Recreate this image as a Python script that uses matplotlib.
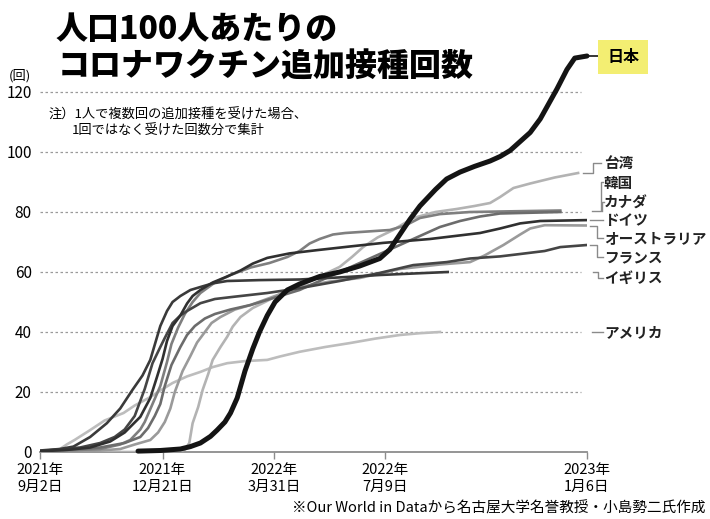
import pandas as pd
import matplotlib
matplotlib.use("Agg")
import matplotlib.pyplot as plt
from matplotlib.lines import Line2D

plt.rcParams['font.family'] = ['Noto Sans CJK JP', 'DejaVu Sans']

start = pd.Timestamp("2021-09-02")
end = pd.Timestamp("2023-01-06")

# booster doses per 100 people
# days = days after 2021-09-02
japan_days = [88, 108, 126, 135, 144, 153, 159, 166, 171, 177, 184, 191, 197, 204, 211, 222,
              233, 251, 269, 287, 305, 314, 323, 332, 341, 355, 365, 377, 390, 404, 413, 422,
              431, 440, 449, 464, 473, 480, 491]
japan_vals = [0.3, 0.5, 1, 1.8, 3, 5.2, 7.3, 10, 13, 18, 27, 34.4, 40, 45.5, 50, 54,
              56, 58.5, 60, 62, 64.5, 67.5, 72.5, 77.5, 82, 87.5, 91, 93.3, 95.2, 97, 98.5, 100.5,
              103.5, 106.5, 111, 121, 127.5, 131.3, 132]

uk_days = [0, 18, 30, 45, 60, 72, 83, 92, 99, 104, 108, 114, 119, 126, 135, 144, 155, 168,
           197, 233, 269, 305, 366]
uk_vals = [0.5, 1, 1.8, 5, 9.6, 14.5, 20.7, 25.5, 30.7, 37, 42, 47, 50, 52, 54, 55, 56.2, 57,
           57.3, 57.5, 58.2, 59, 60]

germany_days = [0, 27, 45, 63, 76, 90, 99, 105, 110, 114, 119, 126, 132, 137, 144, 155, 168,
                180, 191, 204, 224, 249, 278, 308, 350, 395, 413, 431, 449, 491]
germany_vals = [0.2, 0.8, 1.5, 3.5, 6.5, 11.7, 18, 25, 31, 37, 42, 45.5, 49.5, 52, 54, 56.5, 58.5,
                60.5, 62.8, 64.7, 66.2, 67.3, 68.5, 69.7, 71, 73, 74.5, 76.2, 77, 77.3]

korea_days = [0, 54, 72, 81, 90, 94, 101, 108, 114, 118, 124, 130, 137, 144, 157, 171, 189,
              206, 222, 233, 242, 251, 263, 274, 314, 328, 341, 359, 386, 467]
korea_vals = [0.1, 1, 2.5, 4, 7.5, 10, 16, 22, 30, 36, 41.5, 46, 50, 53, 56.5, 59, 61.5,
              63, 65, 67, 69.5, 71, 72.5, 73, 74, 75.5, 78, 79.3, 80, 80.5]

france_days = [0, 36, 54, 67, 76, 85, 94, 101, 108, 112, 119, 126, 132, 144, 157, 173, 204,
               233, 269, 305, 335, 365, 386, 413, 431, 453, 467, 491]
france_vals = [0.3, 1.5, 3, 5, 7.5, 12, 21, 29.6, 35, 38, 43, 45.5, 47, 49.6, 51, 51.7, 53,
               54.6, 57, 59.7, 62.3, 63.3, 64.5, 65.2, 66, 67, 68.3, 69]

canada_days = [0, 54, 76, 90, 97, 103, 108, 112, 118, 126, 132, 139, 148, 157, 171, 189, 211,
               233, 251, 269, 287, 305, 323, 341, 359, 377, 395, 413, 467]
canada_vals = [0.1, 1.5, 3, 5, 8, 12, 16, 22, 29, 35, 39, 42, 44.5, 46, 47.5, 49, 51.5,
               54, 57, 60, 63, 66, 69, 72, 75, 77, 78.5, 79.5, 80]

australia_days = [0, 54, 72, 85, 99, 106, 112, 117, 121, 128, 135, 141, 148, 154, 162, 175, 189,
                  211, 233, 260, 287, 323, 359, 386, 399, 416, 431, 440, 453, 491]
australia_vals = [0, 0.5, 1, 2.5, 4, 6.5, 10, 14.5, 20, 27, 32, 36.5, 40, 43, 45, 47.5, 49,
                  52, 55, 56.8, 58, 61, 62.5, 63.3, 65.5, 69, 72.5, 74.5, 75.6, 75.5]

taiwan_days = [0, 99, 126, 130, 134, 137, 142, 146, 151, 155, 162, 168, 173, 180, 191, 202,
               215, 231, 251, 269, 280, 290, 303, 317, 335, 355, 374, 390, 404, 413, 425, 440,
               462, 483]
taiwan_vals = [0, 0, 0.3, 0.8, 3, 9.6, 15, 20.7, 26, 30.7, 35, 38.4, 41.8, 45, 48, 50,
               52.5, 55, 58.5, 61.7, 65, 68.3, 71.5, 74, 78, 80, 81, 82, 83, 85, 88, 89.5,
               91.5, 93]

usa_days = [0, 9, 18, 24, 31, 45, 58, 75, 85, 99, 108, 119, 132, 144, 155, 168, 184, 204,
            215, 233, 256, 278, 301, 323, 341, 359]
usa_vals = [0, 0.4, 1, 2.5, 4, 7.3, 10.5, 13, 15.5, 18.3, 20.5, 23, 25.2, 26.7, 28.3, 29.6,
            30.3, 30.7, 31.8, 33.4, 35, 36.3, 37.8, 39, 39.6, 40]

tick_dates = ["2021-09-02", "2021-12-21", "2022-03-31", "2022-07-09", "2023-01-06"]
tick_labels = ["2021年\n9月2日", "2021年\n12月21日", "2022年\n3月31日", "2022年\n7月9日", "2023年\n1月6日"]


def to_dates(days):
    return start + pd.to_timedelta(days, unit="D")


fig = plt.figure(figsize=(7.1, 5.19), dpi=100)
ax = fig.add_axes([40 / 710, 67 / 519, 547 / 710, 402 / 519])
ax.set_xlim(start, end)
ax.set_ylim(0, 134)

# dotted grid
grid_end = pd.Timestamp("2023-01-01")
for y in [20, 40, 60, 80, 100, 120]:
    ax.plot([start, grid_end], [y, y], ls=(0, (2, 2)), color="#9a9a9a", lw=0.9, zorder=1)

# other countries (light first)
others = [
    (usa_days, usa_vals, "#bdbdbd"),
    (taiwan_days, taiwan_vals, "#b3b3b3"),
    (australia_days, australia_vals, "#9a9a9a"),
    (korea_days, korea_vals, "#7f7f7f"),
    (canada_days, canada_vals, "#6c6c6c"),
    (france_days, france_vals, "#454545"),
    (uk_days, uk_vals, "#3a3a3a"),
    (germany_days, germany_vals, "#303030"),
]
for days, vals, col in others:
    ax.plot(to_dates(days), vals, color=col, lw=1.9, zorder=3, solid_joinstyle="round")

ax.plot(to_dates(japan_days), japan_vals, color="#141414", lw=3.6,
        solid_capstyle="round", solid_joinstyle="round", zorder=5, clip_on=False)

for s in ["left", "top", "right"]:
    ax.spines[s].set_visible(False)
ax.spines["bottom"].set_color("#8c8c8c")
ax.spines["bottom"].set_linewidth(1.3)

ax.set_xticks(pd.to_datetime(tick_dates))
ax.set_xticklabels(tick_labels, fontsize=10.5, linespacing=1.25)
ax.tick_params(axis="x", direction="out", length=5, width=1, color="#8c8c8c", pad=3)
ax.set_yticks([0, 20, 40, 60, 80, 100, 120])
ax.tick_params(axis="y", length=0, pad=6, labelsize=11)

# labels on the right
trans = ax.get_yaxis_transform()
labels = [
    ("台湾", 96.5), ("韓国", 89.8), ("カナダ", 83.2), ("ドイツ", 77.2),
    ("オーストラリア", 71.2), ("フランス", 64.8), ("イギリス", 58.0), ("アメリカ", 40.0),
]
for txt, y in labels:
    ax.text(1.031, y, txt, transform=trans, fontsize=10.5, fontweight="bold",
            color="#222222", va="center", ha="left")

brackets = [
    ([0.993, 1.011, 1.011, 1.026], [93, 93, 96.5, 96.5]),
    ([1.01, 1.025, 1.025, 1.029], [80.2, 80.2, 90, 90]),
    ([1.027, 1.027, 1.031], [80.2, 83.4, 83.4]),
    ([1.006, 1.029], [77.3, 77.3]),
    ([1.006, 1.019, 1.019, 1.029], [75.5, 75.5, 71.4, 71.4]),
    ([1.006, 1.019, 1.019, 1.029], [69, 69, 65, 65]),
    ([1.011, 1.02, 1.02, 1.029], [60, 60, 58, 58]),
    ([1.01, 1.029], [40, 40]),
]
for xs, ys in brackets:
    ax.add_line(Line2D(xs, ys, transform=trans, color="#8a8a8a", lw=1, clip_on=False))

ax.add_line(Line2D([1.003, 1.021], [132, 132], transform=trans, color="#141414",
                   lw=1.2, clip_on=False))
ax.text(1.037, 131.7, "日本", transform=trans, fontsize=11.5, fontweight="bold",
        va="center", ha="left",
        bbox=dict(boxstyle="square,pad=0.55", fc="#f3ee72", ec="none"))

# titles and notes
fig.text(56 / 710, 1 - 29 / 519, "人口100人あたりの", fontsize=23, fontweight="heavy", va="center")
fig.text(58 / 710, 1 - 66 / 519, "コロナワクチン追加接種回数", fontsize=23, fontweight="heavy", va="center")
fig.text(20 / 710, 1 - 76 / 519, "(回)", fontsize=9.5, ha="center", va="center")
fig.text(49 / 710, 1 - 115 / 519, "注）1人で複数回の追加接種を受けた場合、", fontsize=9.5, va="center")
fig.text(72 / 710, 1 - 131 / 519, "1回ではなく受けた回数分で集計", fontsize=9.5, va="center")
fig.text(705 / 710, 1 - 508 / 519, "※Our World in Dataから名古屋大学名誉教授・小島勢二氏作成",
         fontsize=10.5, ha="right", va="center")

fig.savefig("out.png", dpi=100)
